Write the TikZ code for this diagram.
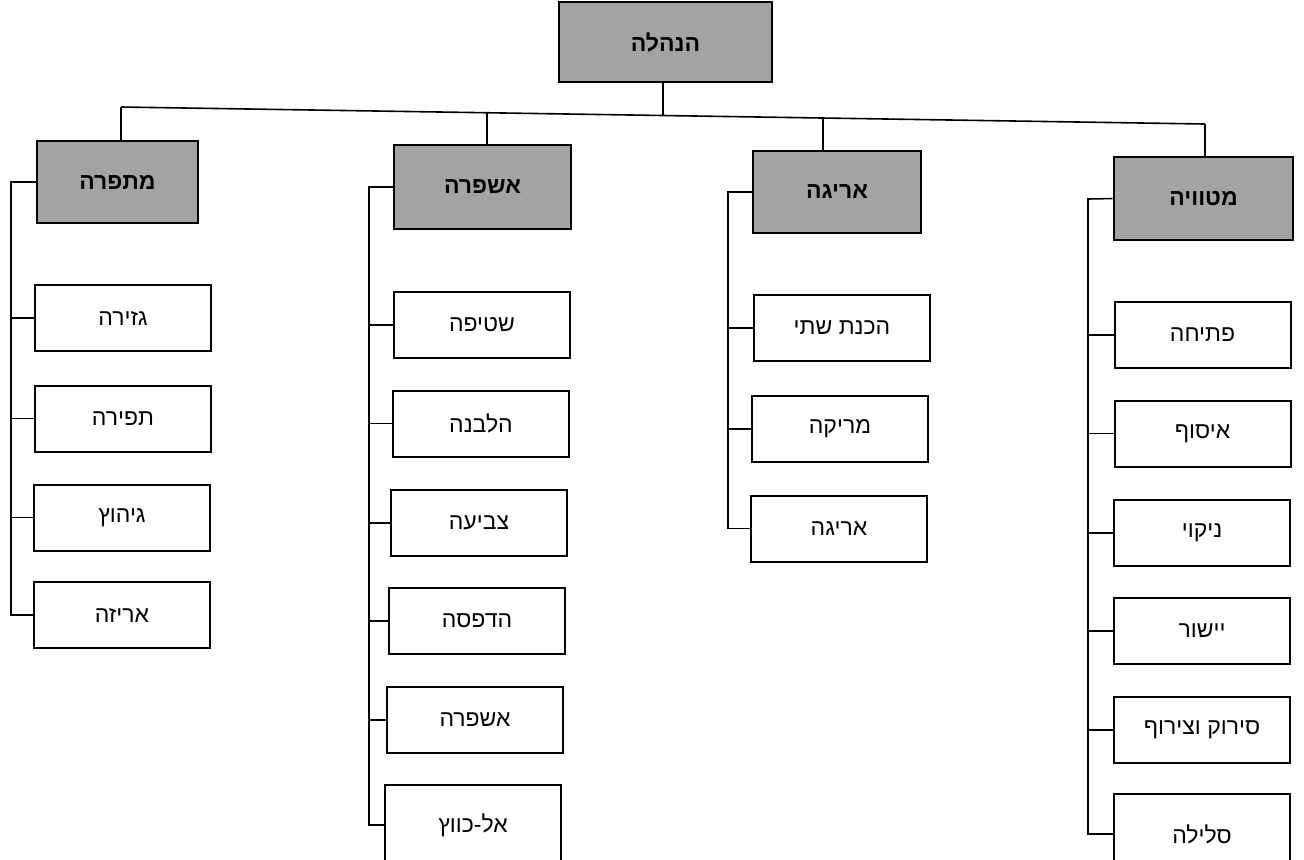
\documentclass[tikz,border=0pt]{standalone}
\usepackage{fontspec}
\newfontfamily\hebfont[Script=Hebrew]{Liberation Sans}
\TeXXeTstate=1
\newcommand{\rtltext}[1]{\beginR #1\endR}

\begin{document}
\begin{tikzpicture}[x=0.5pt,y=-0.5pt,
  leaf/.style={draw, line width=1pt, fill=white, inner sep=0pt,
    minimum width=88pt, minimum height=33pt,
    font=\hebfont\fontsize{11.5}{13}\selectfont},
  dept/.style={draw, line width=1.4pt, fill=black!36, inner sep=0pt,
    minimum height=41pt, font=\hebfont\bfseries\fontsize{11.5}{13}\selectfont},
  link/.style={line width=0.8pt}]

\path[use as bounding box, clip] (0,0) rectangle (1304,859);

% management and the four departments
\node[dept, minimum width=106.5pt, minimum height=40pt] (top) at (665.5,42) {\rtltext{הנהלה}};
\node[dept, minimum width=80.5pt] (h1) at (117.5,182) {\rtltext{מתפרה}};
\node[dept, minimum width=88.5pt, minimum height=42pt] (h2) at (482.5,187) {\rtltext{אשפרה}};
\node[dept, minimum width=84pt] (h3) at (837,192) {\rtltext{אריגה}};
\node[dept, minimum width=89.5pt, minimum height=41.5pt] (h4) at (1203.5,198.5) {\rtltext{מטוויה}};

% bus joining the departments
\coordinate (b1) at (121,107);
\coordinate (b2) at (487,112.7);
\coordinate (bt) at (663,115.5);
\coordinate (b3) at (823,118);
\coordinate (b4) at (1205,124);
\draw[link] (b1) -- (b4);
\draw[link] (top.south -| bt) -- (bt);
\draw[link] (b1) -- (b1 |- h1.north);
\draw[link] (b2) -- (b2 |- h2.north);
\draw[link] (b3) -- (b3 |- h3.north);
\draw[link] (b4) -- (b4 |- h4.north);

% sewing
\node[leaf] (a1) at (123,318) {\rtltext{גזירה}};
\node[leaf] (a2) at (123,418.5) {\rtltext{תפירה}};
\node[leaf] (a3) at (122,517.5) {\rtltext{גיהוץ}};
\node[leaf] (a4) at (122,615) {\rtltext{אריזה}};
\coordinate (t1) at (11,182);
\draw[link] (h1.west) -- (t1) |- (a4.west);
\foreach \n in {a1,a2,a3} \draw[link] (\n.west) -- (\n.west -| t1);

% finishing
\node[leaf] (s1) at (482,325) {\rtltext{שטיפה}};
\node[leaf] (s2) at (481,423.5) {\rtltext{הלבנה}};
\node[leaf] (s3) at (479,523) {\rtltext{צביעה}};
\node[leaf] (s4) at (477,621) {\rtltext{הדפסה}};
\node[leaf] (s5) at (475,720) {\rtltext{אשפרה}};
\node[leaf, minimum height=40pt] (s6) at (473,825) {\rtltext{אל-כווץ}};
\coordinate (t2) at (369,187);
\draw[link] (h2.west) -- (t2) |- (s6.west);
\foreach \n in {s1,s2,s3,s4,s5} \draw[link] (\n.west) -- (\n.west -| t2);

% weaving
\node[leaf] (w1) at (842,328) {\rtltext{הכנת שתי}};
\node[leaf] (w2) at (840,429) {\rtltext{מריקה}};
\node[leaf] (w3) at (839,528.5) {\rtltext{אריגה}};
\coordinate (t3) at (728,192);
\draw[link] (h3.west) -- (t3) |- (w3.west);
\foreach \n in {w1,w2} \draw[link] (\n.west) -- (\n.west -| t3);

% spinning
\node[leaf] (m1) at (1202.5,335) {\rtltext{פתיחה}};
\node[leaf] (m2) at (1202.5,433.5) {\rtltext{איסוף}};
\node[leaf] (m3) at (1202,533) {\rtltext{ניקוי}};
\node[leaf] (m4) at (1202,631) {\rtltext{יישור}};
\node[leaf] (m5) at (1202,730) {\rtltext{סירוק וצירוף}};
\node[leaf, minimum height=40pt] (m6) at (1202,834) {\rtltext{סלילה}};
\coordinate (t4) at (1088,199);
\draw[link] (h4.west) -- (t4) |- (m6.west);
\foreach \n in {m1,m2,m3,m4,m5} \draw[link] (\n.west) -- (\n.west -| t4);

\end{tikzpicture}
\end{document}
